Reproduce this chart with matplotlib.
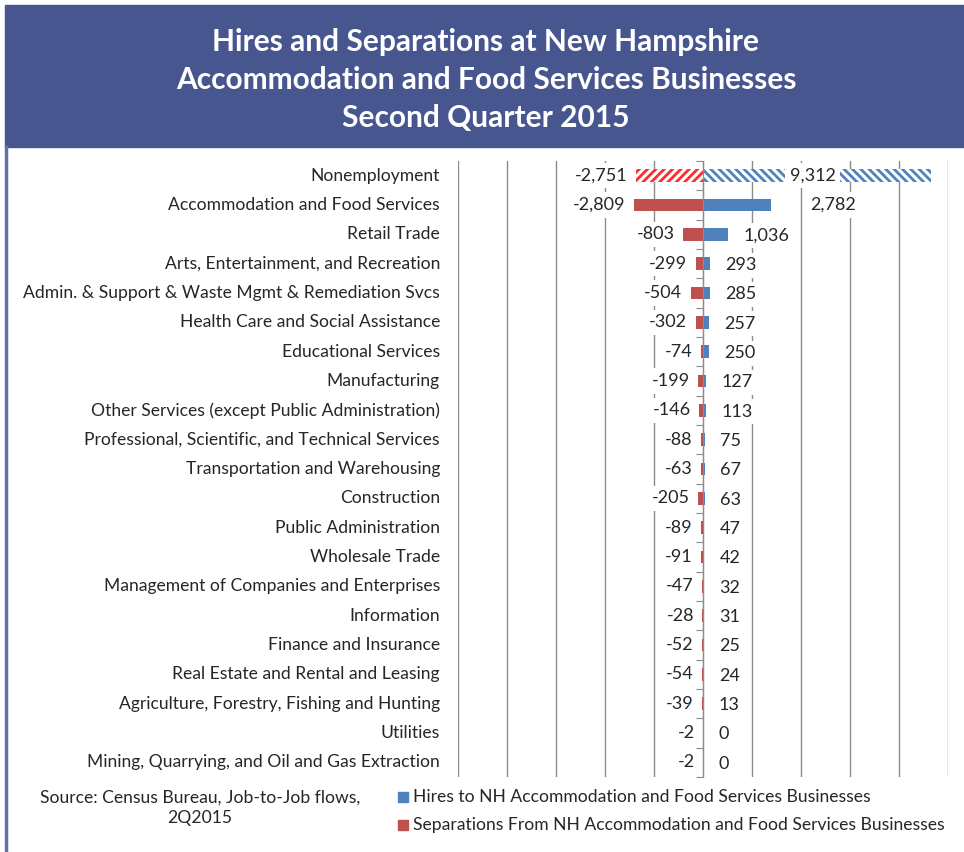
import matplotlib.pyplot as plt
import matplotlib.transforms as mtransforms
from matplotlib.patches import Rectangle
import numpy as np

# donnees
categories = [
    "Nonemployment",
    "Accommodation and Food Services",
    "Retail Trade",
    "Arts, Entertainment, and Recreation",
    "Admin. & Support & Waste Mgmt & Remediation Svcs",
    "Health Care and Social Assistance",
    "Educational Services",
    "Manufacturing",
    "Other Services (except Public Administration)",
    "Professional, Scientific, and Technical Services",
    "Transportation and Warehousing",
    "Construction",
    "Public Administration",
    "Wholesale Trade",
    "Management of Companies and Enterprises",
    "Information",
    "Finance and Insurance",
    "Real Estate and Rental and Leasing",
    "Agriculture, Forestry, Fishing and Hunting",
    "Utilities",
    "Mining, Quarrying, and Oil and Gas Extraction",
]
hires = [9312, 2782, 1036, 293, 285, 257, 250, 127, 113, 75, 67, 63, 47, 42,
         32, 31, 25, 24, 13, 0, 0]
separations = [-2751, -2809, -803, -299, -504, -302, -74, -199, -146, -88, -63,
               -205, -89, -91, -47, -28, -52, -54, -39, -2, -2]

title_lines = ["Hires and Separations at New Hampshire",
               "Accommodation and Food Services Businesses",
               "Second Quarter 2015"]
legend_labels = ["Hires to NH Accommodation and Food Services Businesses",
                 "Separations From NH Accommodation and Food Services Businesses"]
source_text = "Source: Census Bureau, Job-to-Job flows,\n2Q2015"

blue = '#4f81bd'
red = '#c0504d'
red_hatch = '#ff2a2a'
banner = '#48568f'
grid_col = '#8c8c8c'
txt_col = '#262626'

plt.rcParams['font.family'] = ['Lato', 'DejaVu Sans']
plt.rcParams['hatch.linewidth'] = 2.0

fig = plt.figure(figsize=(9.64, 8.52), dpi=100)

# bandeau titre
fig.patches.append(Rectangle((5 / 964, 1 - 147 / 852), 1 - 5 / 964, 142 / 852,
                             transform=fig.transFigure, color=banner, zorder=0))
for i, line in enumerate(title_lines):
    fig.text(486 / 964, 1 - (42 + 38 * i) / 852, line, ha='center', va='center',
             color='white', fontsize=21.5, fontweight='bold')
# bordure gauche
fig.add_artist(plt.Line2D([5.5 / 964, 5.5 / 964], [0, 1 - 147 / 852],
                          transform=fig.transFigure, color='#6670a8', lw=2.5))

ax = fig.add_axes([458 / 964, 1 - 777 / 852, 490 / 964, 616 / 852])

n = len(categories)
y = np.arange(n)
bar_h = 0.44

for i in range(n):
    if i == 0:
        ax.barh(y[i], hires[i], height=bar_h, color='white', edgecolor=blue,
                hatch='\\\\\\\\', linewidth=0, zorder=2)
        ax.barh(y[i], separations[i], height=bar_h, color='white', edgecolor=red_hatch,
                hatch='////', linewidth=0, zorder=2)
    else:
        ax.barh(y[i], hires[i], height=bar_h, color=blue, zorder=2)
        ax.barh(y[i], separations[i], height=bar_h, color=red, zorder=2)

ax.set_xlim(-10000, 10000)
ax.set_ylim(n - 0.5, -0.5)
ax.set_xticks(np.arange(-10000, 10001, 2000))
ax.xaxis.grid(True, color=grid_col, lw=1)
ax.set_axisbelow(True)
ax.tick_params(axis='x', length=0, labelbottom=False)

for s in ['top', 'right', 'bottom']:
    ax.spines[s].set_visible(False)
ax.spines['left'].set_position(('data', 0))
ax.spines['left'].set_color(grid_col)
ax.spines['left'].set_zorder(3)
ax.set_yticks(np.arange(-0.5, n, 1.0))
ax.set_yticklabels([])
ax.tick_params(axis='y', direction='out', length=5, color=grid_col)

# noms des categories
trans = mtransforms.blended_transform_factory(fig.transFigure, ax.transData)
for i, c in enumerate(categories):
    ax.text(440 / 964, y[i], c, transform=trans, ha='right', va='center',
            fontsize=12.6, color=txt_col)

# etiquettes de valeurs
box = dict(boxstyle='square,pad=0.25', fc='white', ec='none')
for i in range(n):
    if i == 0:
        ax.annotate(f'{hires[i]:,}', xy=(hires[i] * 0.48, y[i]), ha='center', va='center',
                    fontsize=13, color=txt_col, bbox=box, zorder=4)
    elif i == 1:
        ax.annotate(f'{hires[i]:,}', xy=(hires[i], y[i]), xytext=(28, 0),
                    textcoords='offset points', ha='left', va='center',
                    fontsize=13, color=txt_col, bbox=box, zorder=4)
    else:
        ax.annotate(f'{hires[i]:,}', xy=(hires[i], y[i]), xytext=(11, -1),
                    textcoords='offset points', ha='left', va='center',
                    fontsize=13, color=txt_col, bbox=box, zorder=4)
    ax.annotate(f'{separations[i]:,}', xy=(separations[i], y[i]), xytext=(-6, 0),
                textcoords='offset points', ha='right', va='center',
                fontsize=13, color=txt_col, bbox=box, zorder=4)

# legende
for k, (lab, col) in enumerate(zip(legend_labels, [blue, red])):
    yy = 1 - (797 + 28 * k) / 852
    fig.patches.append(Rectangle((398 / 964, yy - 5 / 852), 10 / 964, 10 / 852,
                                 transform=fig.transFigure, color=col))
    fig.text(413 / 964, yy, lab, ha='left', va='center', fontsize=12.6, color=txt_col)

fig.text(200 / 964, 1 - 808 / 852, source_text, ha='center', va='center',
         fontsize=12.6, color=txt_col, linespacing=1.35)

fig.savefig('out.png', dpi=100)
